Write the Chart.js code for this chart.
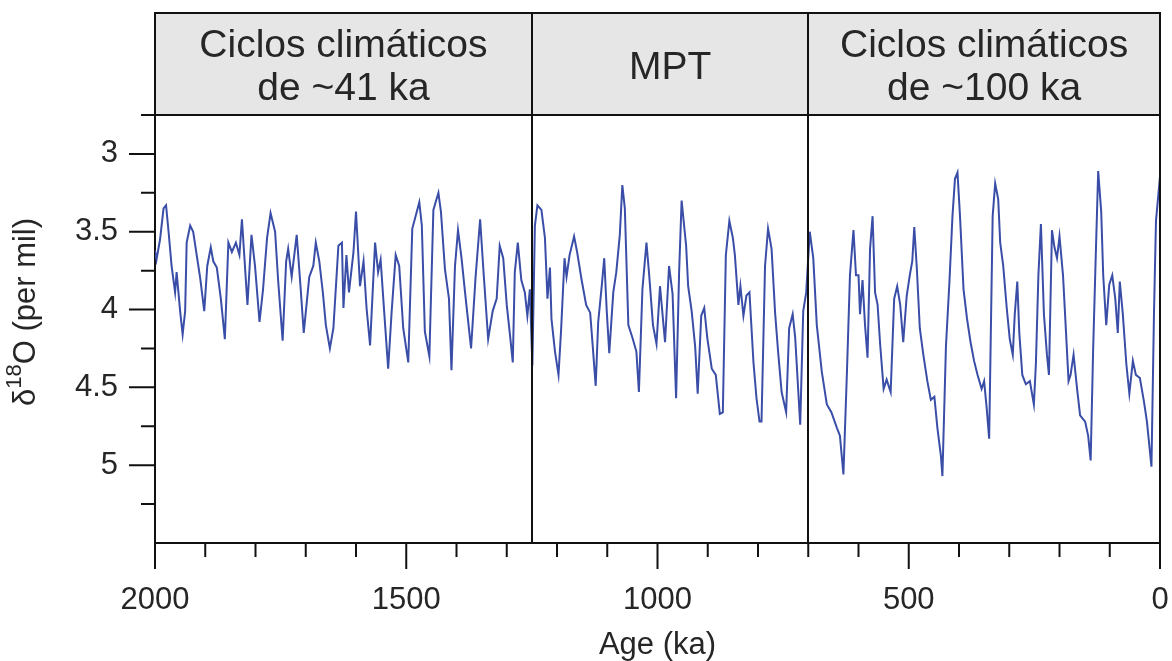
<!DOCTYPE html>
<html>
<head>
<meta charset="utf-8">
<title>Registro de δ18O</title>
<script src="https://cdn.jsdelivr.net/npm/chart.js@4.4.1/dist/chart.umd.min.js"></script>
<style>
  html, body { margin: 0; padding: 0; background: #fff; }
  #wrap { width: 1172px; height: 661px; position: relative; }
</style>
</head>
<body>
<div id="wrap"><canvas id="chart"></canvas></div>
<script>
// --- Data (age in ka, oldest first) ---
const ages = [
  2000, 1997, 1990, 1983, 1978, 1973, 1967, 1960, 1957, 1950, 1945, 1940, 1937, 1930, 1924, 1917,
  1910, 1902, 1896, 1889, 1884, 1877, 1869, 1861, 1854, 1847, 1839, 1832, 1827, 1821, 1816, 1808,
  1801, 1792, 1785, 1777, 1770, 1761, 1755, 1746, 1739, 1735, 1728, 1718, 1710, 1704, 1693, 1685,
  1680, 1673, 1666, 1660, 1652, 1645, 1635, 1628, 1625, 1619, 1614, 1605, 1600, 1592, 1585, 1579,
  1572, 1562, 1556, 1551, 1544, 1536, 1529, 1521, 1514, 1506, 1496, 1488, 1483, 1474, 1469, 1463,
  1454, 1446, 1436, 1431, 1423, 1415, 1410, 1403, 1397, 1390, 1383, 1371, 1362, 1353, 1347, 1337,
  1328, 1320, 1314, 1307, 1300, 1293, 1288, 1284, 1278, 1271, 1264, 1259, 1254, 1249, 1244, 1239,
  1231, 1224, 1219, 1214, 1211, 1204, 1197, 1192, 1185, 1181, 1175, 1166, 1160, 1151, 1142, 1134,
  1129, 1123, 1118, 1111, 1106, 1101, 1096, 1088, 1082, 1075, 1070, 1065, 1058, 1050, 1042, 1037,
  1030, 1022, 1017, 1009, 1002, 995, 985, 977, 970, 963, 957, 952, 943, 939, 932, 925,
  920, 913, 907, 901, 892, 884, 876, 870, 864, 857, 850, 846, 839, 835, 829, 823,
  817, 809, 803, 797, 793, 786, 780, 773, 766, 760, 753, 744, 738, 731, 726, 716,
  710, 704, 697, 690, 683, 673, 663, 654, 643, 637, 630, 623, 617, 610, 605, 600,
  597, 592, 587, 582, 577, 572, 567, 562, 557, 550, 544, 536, 529, 523, 517, 511,
  504, 498, 493, 489, 484, 478, 471, 463, 456, 449, 443, 436, 433, 426, 419, 413,
  408, 403, 398, 391, 384, 377, 370, 363, 355, 350, 345, 340, 333, 328, 322, 318,
  312, 305, 299, 293, 289, 284, 280, 274, 267, 259, 251, 247, 242, 237, 231, 225,
  221, 215, 210, 205, 200, 193, 187, 182, 178, 172, 165, 159, 149, 143, 138, 133,
  128, 123, 117, 113, 107, 101, 95, 89, 84, 80, 74, 67, 61, 54, 48, 40,
  32, 26, 17, 12, 8, 1, 0
];
const d18O = [
  3.62, 3.68, 3.55, 3.35, 3.33, 3.50, 3.72, 3.89, 3.76, 4.01, 4.16, 4.01, 3.57, 3.46, 3.50, 3.65,
  3.80, 4.01, 3.72, 3.60, 3.69, 3.73, 3.93, 4.19, 3.57, 3.63, 3.57, 3.65, 3.42, 3.72, 3.97, 3.52,
  3.72, 4.08, 3.87, 3.54, 3.38, 3.50, 3.81, 4.20, 3.69, 3.61, 3.79, 3.52, 3.87, 4.15, 3.79, 3.72,
  3.57, 3.69, 3.89, 4.10, 4.25, 4.12, 3.59, 3.57, 3.99, 3.65, 3.89, 3.63, 3.37, 3.85, 3.69, 3.99,
  4.23, 3.57, 3.76, 3.68, 4.01, 4.38, 4.01, 3.65, 3.72, 4.12, 4.34, 3.48, 3.42, 3.31, 3.46, 4.14,
  4.30, 3.36, 3.25, 3.37, 3.74, 3.93, 4.39, 3.72, 3.49, 3.67, 3.89, 4.25, 3.79, 3.42, 3.72, 4.19,
  4.01, 3.93, 3.59, 3.67, 3.97, 4.18, 4.34, 3.76, 3.57, 3.81, 3.89, 4.04, 3.87, 4.36, 3.46, 3.33,
  3.36, 3.54, 3.93, 3.73, 4.06, 4.27, 4.42, 4.14, 3.67, 3.79, 3.65, 3.53, 3.63, 3.81, 3.97, 4.02,
  4.23, 4.49, 4.08, 3.85, 3.67, 4.01, 4.28, 3.89, 3.76, 3.52, 3.20, 3.35, 4.10, 4.18, 4.27, 4.53,
  3.87, 3.57, 3.76, 4.10, 4.22, 3.85, 4.21, 3.72, 3.90, 4.57, 3.76, 3.30, 3.59, 3.85, 4.01, 4.24,
  4.54, 4.04, 3.99, 4.18, 4.38, 4.42, 4.67, 4.66, 3.65, 3.43, 3.54, 3.65, 3.97, 3.85, 4.04, 3.91,
  3.89, 4.34, 4.57, 4.72, 4.72, 3.72, 3.48, 3.61, 4.02, 4.27, 4.53, 4.66, 4.12, 4.03, 4.18, 4.74,
  4.01, 3.89, 3.50, 3.67, 4.10, 4.40, 4.61, 4.66, 4.76, 4.81, 5.06, 4.40, 3.78, 3.49, 3.78, 3.78,
  4.03, 3.81, 4.10, 4.31, 3.61, 3.40, 3.89, 3.97, 4.22, 4.51, 4.45, 4.53, 3.93, 3.85, 3.97, 4.21,
  3.91, 3.78, 3.69, 3.47, 3.73, 4.12, 4.29, 4.46, 4.58, 4.56, 4.76, 4.94, 5.07, 4.24, 3.82, 3.40,
  3.16, 3.12, 3.40, 3.87, 4.06, 4.21, 4.33, 4.42, 4.51, 4.46, 4.63, 4.83, 3.40, 3.19, 3.29, 3.57,
  3.72, 3.99, 4.19, 4.29, 4.03, 3.82, 4.15, 4.42, 4.48, 4.46, 4.61, 4.35, 3.78, 3.45, 4.03, 4.29,
  4.42, 3.49, 3.60, 3.67, 3.53, 3.78, 4.15, 4.46, 4.42, 4.29, 4.51, 4.68, 4.72, 4.81, 4.97, 4.25,
  3.67, 3.11, 3.37, 3.78, 4.10, 3.84, 3.78, 3.93, 4.15, 3.82, 4.03, 4.35, 4.54, 4.33, 4.42, 4.44,
  4.59, 4.72, 5.01, 4.03, 3.43, 3.18, 3.20
];

// tick labels shown on the axes
const xTickLabels = [2000, 1500, 1000, 500, 0];
const yTickLabels = [3, 3.5, 4, 4.5, 5];

// header boxes above the plot
const periodBounds = [2000, 1250, 700, 0];
const periodLabels = [
  ['Ciclos climáticos', 'de ~41 ka'],
  ['MPT'],
  ['Ciclos climáticos', 'de ~100 ka']
];

const FONT = '"Liberation Sans", Arial, Helvetica, sans-serif';
const TEXT = '#262626';
const AXIS = '#111';

const isLabeled = (list, v) => list.some(t => Math.abs(t - v) < 1e-6);

// y title with a real superscript: δ + 18 + O (per mil)
function drawYTitle(ctx, cx, cy) {
  const parts = [
    { t: 'δ', size: 31, dy: 0 },
    { t: '18', size: 22, dy: -11 },
    { t: 'O (per mil)', size: 31, dy: 0 }
  ];
  let total = 0;
  parts.forEach(p => { ctx.font = p.size + 'px ' + FONT; p.w = ctx.measureText(p.t).width; total += p.w; });
  ctx.save();
  ctx.translate(cx, cy);
  ctx.rotate(-Math.PI / 2);
  ctx.fillStyle = TEXT;
  ctx.textAlign = 'left';
  ctx.textBaseline = 'middle';
  let px = -total / 2;
  parts.forEach(p => {
    ctx.font = p.size + 'px ' + FONT;
    ctx.fillText(p.t, px, p.dy);
    px += p.w;
  });
  ctx.restore();
}

// header boxes, dividers, frame and tick marks
const framePlugin = {
  id: 'frame',
  afterDraw(chart) {
    const { ctx, chartArea: a, scales: { x, y } } = chart;
    const top = 13;
    ctx.save();

    ctx.fillStyle = '#e6e6e6';
    ctx.fillRect(a.left, top, a.right - a.left, a.top - top);

    ctx.strokeStyle = AXIS;
    ctx.lineWidth = 2;
    ctx.beginPath();
    ctx.moveTo(a.left, a.top);
    ctx.lineTo(a.left, top);
    ctx.lineTo(a.right, top);
    ctx.lineTo(a.right, a.bottom);
    ctx.moveTo(a.left, a.top);
    ctx.lineTo(a.right, a.top);
    periodBounds.slice(1, -1).forEach(b => {
      const px = Math.round(x.getPixelForValue(b));
      ctx.moveTo(px, top);
      ctx.lineTo(px, a.bottom);
    });

    // tick marks: long for labeled values, short otherwise
    x.ticks.forEach(t => {
      const px = x.getPixelForValue(t.value);
      const len = isLabeled(xTickLabels, t.value) ? 26 : 14;
      ctx.moveTo(px, a.bottom);
      ctx.lineTo(px, a.bottom + len);
    });
    y.ticks.forEach(t => {
      if (t.value > 5.4) return;
      const py = y.getPixelForValue(t.value);
      const len = isLabeled(yTickLabels, t.value) ? 26 : 14;
      ctx.moveTo(a.left, py);
      ctx.lineTo(a.left - len, py);
    });
    ctx.stroke();

    ctx.fillStyle = TEXT;
    ctx.font = '39px ' + FONT;
    ctx.textAlign = 'center';
    ctx.textBaseline = 'middle';
    periodLabels.forEach((lines, i) => {
      const cx = (x.getPixelForValue(periodBounds[i]) + x.getPixelForValue(periodBounds[i + 1])) / 2;
      const cy = 68;
      const lh = 43;
      lines.forEach((t, j) => ctx.fillText(t, cx, cy + (j - (lines.length - 1) / 2) * lh));
    });

    drawYTitle(ctx, 26, 312);
    ctx.restore();
  }
};

new Chart(document.getElementById('chart'), {
  type: 'line',
  data: {
    datasets: [{
      data: ages.map((a, i) => ({ x: a, y: d18O[i] })),
      borderColor: '#3a4ea8',
      borderWidth: 2,
      pointRadius: 0,
      tension: 0,
      fill: false
    }]
  },
  options: {
    responsive: true,
    maintainAspectRatio: false,
    animation: false,
    layout: { padding: { top: 115, right: 12, left: 0, bottom: 0 } },
    plugins: { legend: { display: false }, tooltip: { enabled: false } },
    scales: {
      x: {
        type: 'linear',
        reverse: true,
        min: 0,
        max: 2000,
        afterFit: s => { s.height = 118; s.paddingLeft = 0; s.paddingRight = 0; },
        ticks: {
          stepSize: 100,
          autoSkip: false,
          maxRotation: 0,
          padding: 39,
          color: TEXT,
          font: { size: 31, family: FONT },
          callback: v => isLabeled(xTickLabels, v) ? String(v) : ''
        },
        grid: { drawOnChartArea: false, drawTicks: false },
        border: { color: AXIS, width: 2 },
        title: {
          display: true,
          text: 'Age (ka)',
          color: TEXT,
          font: { size: 31, family: FONT, lineHeight: 1 },
          padding: { top: 0, bottom: 0 }
        }
      },
      y: {
        type: 'linear',
        reverse: true,
        min: 2.75,
        max: 5.5,
        afterFit: s => { s.width = 155; },
        ticks: {
          stepSize: 0.25,
          autoSkip: false,
          padding: 37,
          color: TEXT,
          font: { size: 31, family: FONT },
          callback: v => isLabeled(yTickLabels, v) ? String(v) : ''
        },
        grid: { drawOnChartArea: false, drawTicks: false },
        border: { color: AXIS, width: 2 }
      }
    }
  },
  plugins: [framePlugin]
});
</script>
</body>
</html>
